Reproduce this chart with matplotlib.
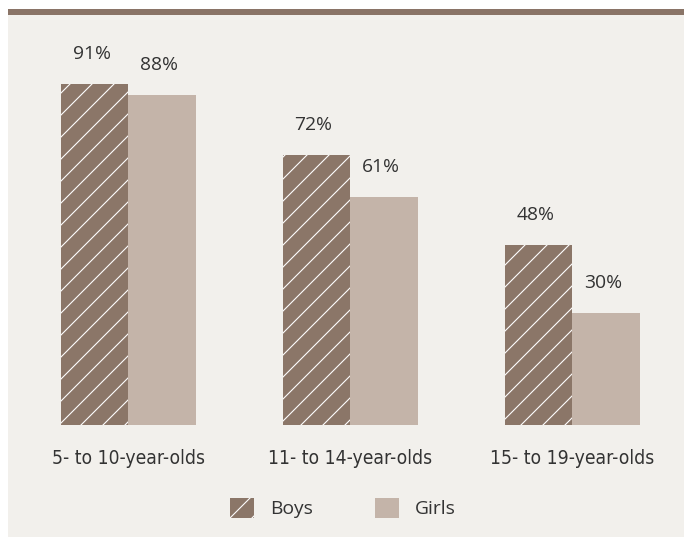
import matplotlib
matplotlib.use("Agg")
import matplotlib.pyplot as plt
from matplotlib.patches import Patch, Rectangle
import numpy as np

# data
categories = ["5- to 10-year-olds", "11- to 14-year-olds", "15- to 19-year-olds"]
boys = [91, 72, 48]
girls = [88, 61, 30]
series_names = ["Boys", "Girls"]

BOYS_COLOR = "#8b7668"
GIRLS_COLOR = "#c4b4a9"
BG = "#f2f0ec"
TOP_BAR = "#8a7467"
TEXT = "#333333"

DPI = 132
W, H = 684, 537

plt.rcParams["hatch.color"] = "white"
plt.rcParams["hatch.linewidth"] = 0.6
plt.rcParams["font.family"] = ["Open Sans", "DejaVu Sans"]

fig = plt.figure(figsize=(W / DPI, H / DPI), dpi=DPI, facecolor="white")

# panel background and brown rule at the top
fig.patches.append(Rectangle((8 / W, 0), 1 - 8 / W, 1 - 9 / H,
                             transform=fig.transFigure, facecolor=BG,
                             edgecolor="none", zorder=-2))
fig.patches.append(Rectangle((8 / W, 1 - 15 / H), 1 - 8 / W, 6 / H,
                             transform=fig.transFigure, facecolor=TOP_BAR,
                             edgecolor="none", zorder=-1))

# axes: baseline at y=425px, top at y=15px
ax = fig.add_axes([8 / W, (H - 425) / H, 1 - 8 / W, 410 / H])
ax.set_zorder(2)
ax.set_facecolor("none")
px_per_unit = 222.0
ax.set_xlim(-120 / px_per_unit, (W - 128) / px_per_unit)
ax.set_ylim(0, 410 / 3.745)

x = np.arange(len(categories))
width = 67.5 / px_per_unit

bars_b = ax.bar(x - width / 2, boys, width, color=BOYS_COLOR, hatch="//",
                edgecolor="white", linewidth=0)
bars_g = ax.bar(x + width / 2, girls, width, color=GIRLS_COLOR,
                edgecolor="none", linewidth=0)

offset_pt = 30 * 72 / DPI
for bars, vals in [(bars_b, boys), (bars_g, girls)]:
    for b, v in zip(bars, vals):
        ax.annotate(f"{v}%", (b.get_x() + b.get_width() / 2, b.get_height()),
                    xytext=(-1.5, offset_pt), textcoords="offset points",
                    ha="center", va="center", fontsize=10.5, color=TEXT)

ax.set_xticks(x)
ax.set_xticklabels(categories, fontsize=10.5, color=TEXT,
                   family="DejaVu Sans", fontstretch="condensed")
ax.tick_params(axis="x", length=0, pad=24 * 72 / DPI)
ax.set_yticks([])
for s in ax.spines.values():
    s.set_visible(False)

# legend
handles = [Patch(facecolor=BOYS_COLOR, hatch="//", edgecolor="white", linewidth=0,
                 label=series_names[0]),
           Patch(facecolor=GIRLS_COLOR, edgecolor="none", label=series_names[1])]
em = 10.5 * DPI / 72
leg = fig.legend(handles=handles, loc="center", ncol=2,
                 bbox_to_anchor=(343 / W, 1 - 508 / H), frameon=False,
                 fontsize=10.5, handlelength=24 / em, handleheight=24 / em,
                 handletextpad=16 / em, columnspacing=62 / em,
                 borderpad=0, borderaxespad=0)
for t in leg.get_texts():
    t.set_color(TEXT)

fig.savefig("out.png", dpi=DPI, facecolor="white")
